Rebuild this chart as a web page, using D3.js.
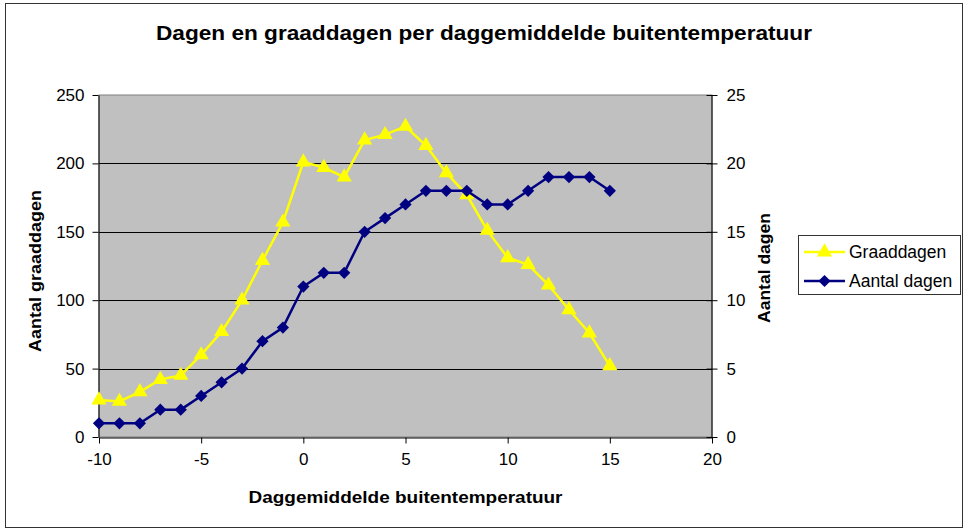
<!DOCTYPE html>
<html>
<head>
<meta charset="utf-8">
<script src="https://cdn.jsdelivr.net/npm/d3@7"></script>
<style>
  body { margin: 0; background: #fff; }
  text { font-family: "Liberation Sans", Arial, sans-serif; fill: #000; }
</style>
</head>
<body>
<div id="graph-container"></div>
<script>
const temperatures = [-10, -9, -8, -7, -6, -5, -4, -3, -2, -1, 0, 1, 2, 3, 4, 5, 6, 7, 8, 9, 10, 11, 12, 13, 14, 15];
const graaddagen = [27, 26, 33, 42, 45, 60, 77, 100, 129, 157, 201, 197, 190, 217, 221, 227, 213, 193, 177, 151, 131, 126, 111, 93, 76, 52];
const aantalDagen = [1, 1, 1, 2, 2, 3, 4, 5, 7, 8, 11, 12, 12, 15, 16, 17, 18, 18, 18, 17, 17, 18, 19, 19, 19, 18];
const xTicks = [-10, -5, 0, 5, 10, 15, 20];
const leftTicks = [0, 50, 100, 150, 200, 250];
const rightTicks = [0, 5, 10, 15, 20, 25];

const WIDTH = 966;
const HEIGHT = 529;
const PLOT = {left: 99, right: 712, top: 95, bottom: 437};

const svg = d3.select('#graph-container')
              .append('svg')
              .attr('width', WIDTH)
              .attr('height', HEIGHT);

// outer chart border
svg.append('rect')
   .attr('x', 5.5)
   .attr('y', 3.5)
   .attr('width', 957)
   .attr('height', 524)
   .attr('fill', '#fff')
   .attr('stroke', '#333');

const xScale = d3.scaleLinear()
                 .domain([-10, 20])
                 .range([PLOT.left, PLOT.right]);

const yLeft = d3.scaleLinear()
                .domain([0, 250])
                .range([PLOT.bottom, PLOT.top]);

const yRight = d3.scaleLinear()
                 .domain([0, 25])
                 .range([PLOT.bottom, PLOT.top]);

// plot area
svg.append('rect')
   .attr('x', PLOT.left)
   .attr('y', PLOT.top)
   .attr('width', PLOT.right - PLOT.left)
   .attr('height', PLOT.bottom - PLOT.top)
   .attr('fill', '#c0c0c0')
   .attr('stroke', '#808080');

// gridlines
svg.append('g')
   .selectAll('line')
   .data(leftTicks.slice(1, -1))
   .enter()
   .append('line')
   .attr('x1', PLOT.left)
   .attr('x2', PLOT.right)
   .attr('y1', d => Math.round(yLeft(d)) + 0.5)
   .attr('y2', d => Math.round(yLeft(d)) + 0.5)
   .attr('stroke', '#000');

const styleAxis = g => {
  g.selectAll('path').attr('stroke', '#000');
  g.selectAll('line').attr('stroke', '#000');
  g.selectAll('text')
   .style('font-family', '"Liberation Sans", Arial, sans-serif')
   .style('font-size', '17px')
   .attr('fill', '#000');
};

// plain hyphen for negatives, like the original
const plain = d => String(d);

svg.append('g')
   .attr('transform', `translate(0, ${PLOT.bottom + 0.5})`)
   .call(d3.axisBottom(xScale).tickValues(xTicks).tickFormat(plain).tickSize(6).tickSizeOuter(0).tickPadding(9))
   .call(styleAxis);

svg.append('g')
   .attr('transform', `translate(${PLOT.left - 0.5}, 0)`)
   .call(d3.axisLeft(yLeft).tickValues(leftTicks).tickFormat(plain).tickSize(6).tickSizeOuter(0).tickPadding(8))
   .call(styleAxis);

const rightAx = svg.append('g')
   .attr('transform', `translate(${PLOT.right - 0.5}, 0)`)
   .call(d3.axisRight(yRight).tickValues(rightTicks).tickFormat(plain).tickSize(6).tickSizeOuter(0).tickPadding(9))
   .call(styleAxis);

// right axis has cross tick marks
rightAx.selectAll('.tick line')
       .attr('x1', -5);

const graadPoints = temperatures.map((t, i) => [t, graaddagen[i]]);
const dagenPoints = temperatures.map((t, i) => [t, aantalDagen[i]]);

const graadLine = d3.line()
                    .x(d => xScale(d[0]))
                    .y(d => yLeft(d[1]));

const dagenLine = d3.line()
                    .x(d => xScale(d[0]))
                    .y(d => yRight(d[1]));

const YELLOW = '#ffff00';
const NAVY = '#000080';

const triangle = d3.symbol().type(d3.symbolTriangle).size(100);
const diamond = d3.symbol().type(d3.symbolSquare).size(75);

svg.append('path')
   .datum(graadPoints)
   .attr('d', graadLine)
   .attr('fill', 'none')
   .attr('stroke', YELLOW)
   .attr('stroke-width', 2.5);

svg.append('g')
   .selectAll('path')
   .data(graadPoints)
   .enter()
   .append('path')
   .attr('d', triangle)
   .attr('transform', d => `translate(${xScale(d[0])}, ${yLeft(d[1])})`)
   .attr('fill', YELLOW);

svg.append('path')
   .datum(dagenPoints)
   .attr('d', dagenLine)
   .attr('fill', 'none')
   .attr('stroke', NAVY)
   .attr('stroke-width', 2.5);

svg.append('g')
   .selectAll('path')
   .data(dagenPoints)
   .enter()
   .append('path')
   .attr('d', diamond)
   .attr('transform', d => `translate(${xScale(d[0])}, ${yRight(d[1])}) rotate(45)`)
   .attr('fill', NAVY);

// titles
svg.append('text')
   .attr('x', 484)
   .attr('y', 40)
   .attr('text-anchor', 'middle')
   .attr('textLength', 656)
   .attr('lengthAdjust', 'spacingAndGlyphs')
   .style('font-size', '20px')
   .style('font-weight', 'bold')
   .text('Dagen en graaddagen per daggemiddelde buitentemperatuur');

svg.append('text')
   .attr('x', (PLOT.left + PLOT.right) / 2)
   .attr('y', 503)
   .attr('text-anchor', 'middle')
   .attr('textLength', 314)
   .attr('lengthAdjust', 'spacingAndGlyphs')
   .style('font-size', '17px')
   .style('font-weight', 'bold')
   .text('Daggemiddelde buitentemperatuur');

svg.append('text')
   .attr('transform', `translate(41, ${(PLOT.top + PLOT.bottom) / 2 + 5}) rotate(-90)`)
   .attr('text-anchor', 'middle')
   .attr('textLength', 162)
   .attr('lengthAdjust', 'spacingAndGlyphs')
   .style('font-size', '17px')
   .style('font-weight', 'bold')
   .text('Aantal graaddagen');

svg.append('text')
   .attr('transform', `translate(770, ${(PLOT.top + PLOT.bottom) / 2 + 2}) rotate(-90)`)
   .attr('text-anchor', 'middle')
   .attr('textLength', 110)
   .attr('lengthAdjust', 'spacingAndGlyphs')
   .style('font-size', '17px')
   .style('font-weight', 'bold')
   .text('Aantal dagen');

// legend
const legendItems = [
  {name: 'Graaddagen', color: YELLOW, symbol: triangle, rot: 0},
  {name: 'Aantal dagen', color: NAVY, symbol: diamond, rot: 45}
];

const legend = svg.append('g');

legend.append('rect')
      .attr('x', 798.5)
      .attr('y', 235.5)
      .attr('width', 162)
      .attr('height', 59)
      .attr('fill', '#fff')
      .attr('stroke', '#333');

const entry = legend.selectAll('g.entry')
                    .data(legendItems)
                    .enter()
                    .append('g')
                    .attr('class', 'entry')
                    .attr('transform', (d, i) => `translate(0, ${252 + i * 29})`);

entry.append('line')
     .attr('x1', 804)
     .attr('x2', 845)
     .attr('stroke', d => d.color)
     .attr('stroke-width', 2.5);

entry.append('path')
     .attr('d', d => d.symbol())
     .attr('transform', d => `translate(824.5, 0) rotate(${d.rot})`)
     .attr('fill', d => d.color);

entry.append('text')
     .attr('x', 849)
     .attr('y', 6)
     .style('font-size', '17.5px')
     .text(d => d.name);
</script>
</body>
</html>
